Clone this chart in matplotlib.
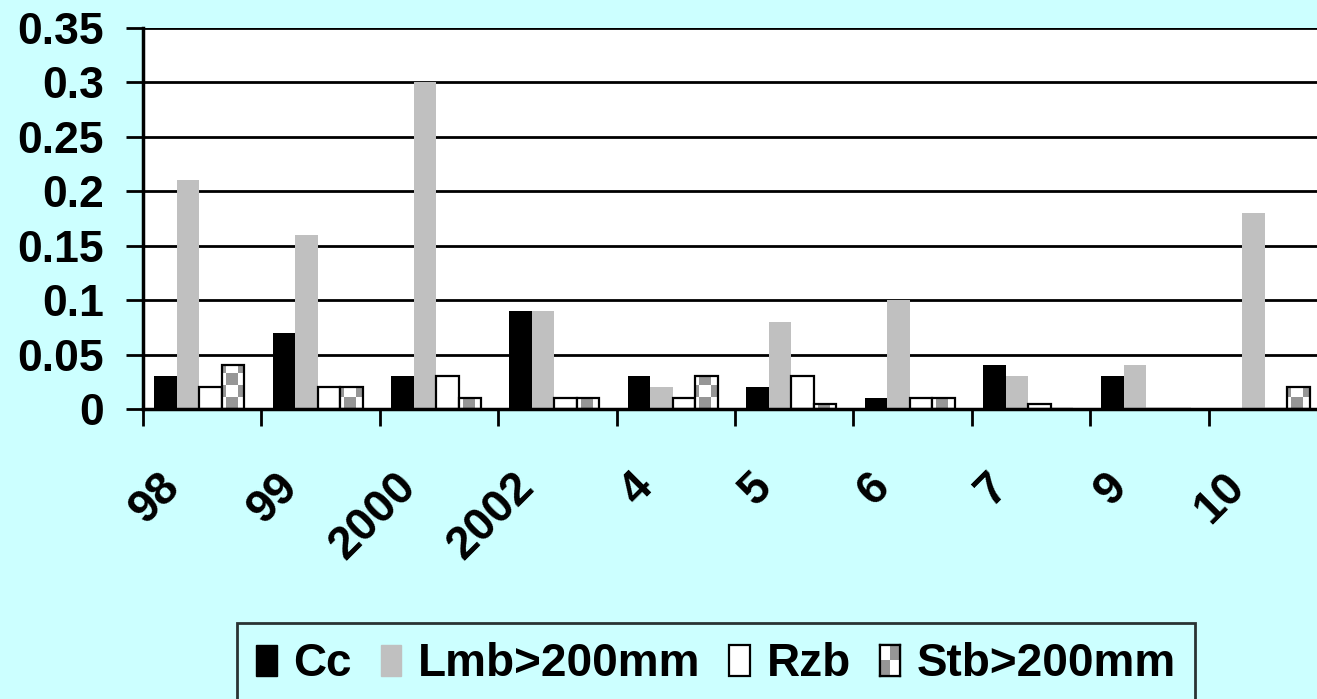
import matplotlib
matplotlib.use("Agg")
import matplotlib.pyplot as plt
import matplotlib.transforms as mtransforms
from matplotlib.patches import Patch
import numpy as np

## data
years = ["98", "99", "2000", "2002", "4", "5", "6", "7", "9", "10"]
cc = [0.03, 0.07, 0.03, 0.09, 0.03, 0.02, 0.01, 0.04, 0.03, 0.0]
lmb = [0.21, 0.16, 0.30, 0.09, 0.02, 0.08, 0.10, 0.03, 0.04, 0.18]
rzb = [0.02, 0.02, 0.03, 0.01, 0.01, 0.03, 0.01, 0.005, 0.0, 0.0]
stb = [0.04, 0.02, 0.01, 0.01, 0.03, 0.005, 0.01, 0.0, 0.0, 0.02]
series_names = ["Cc", "Lmb>200mm", "Rzb", "Stb>200mm"]
yticks = [0, 0.05, 0.1, 0.15, 0.2, 0.25, 0.3, 0.35]
ytick_labels = ["0", "0.05", "0.1", "0.15", "0.2", "0.25", "0.3", "0.35"]

bg = "#CCFFFF"
gray = "#C0C0C0"
checker_gray = "#969696"

plt.rcParams["font.family"] = ["Liberation Sans", "DejaVu Sans"]
plt.rcParams["font.weight"] = "bold"

fig = plt.figure(figsize=(13.17, 6.99), dpi=100, facecolor=bg)
ax = fig.add_axes([143 / 1317, 1 - 409 / 699, 1184 / 1317, 381 / 699])
ax.set_facecolor("white")

x = np.arange(len(years)) + 0.5
w = 0.19
shift = -0.025

ax.bar(x + shift - 1.5 * w, cc, w, color="black", zorder=3)
ax.bar(x + shift - 0.5 * w, lmb, w, color=gray, zorder=3)
ax.bar(x + shift + 0.5 * w, rzb, w, color="white", edgecolor="black", linewidth=1.6, zorder=3)
stb_bars = ax.bar(x + shift + 1.5 * w, stb, w, color="none", edgecolor="black", linewidth=1.6, zorder=4)

# checker fill for Stb, one clipped image per bar
ny, nx = 32, 100
checker = (np.add.outer(np.arange(ny), np.arange(nx)) % 2).astype(float)
cmap = matplotlib.colors.ListedColormap([checker_gray, "white"])
for b in stb_bars:
    if b.get_height() <= 0:
        continue
    im = ax.imshow(checker, cmap=cmap, extent=(0, 10, 0, 0.35), aspect="auto",
                   interpolation="nearest", zorder=3.5)
    im.set_clip_path(b)

ax.set_xlim(0, 10)
ax.set_ylim(0, 0.35)

# y axis
ax.set_yticks(yticks)
ax.set_yticklabels(ytick_labels, fontsize=32, fontweight="bold")
ax.tick_params(axis="y", direction="out", length=12, width=2, pad=16)
ax.yaxis.grid(True, color="black", linewidth=2)
ax.set_axisbelow(True)

# x axis: tick marks between groups, labels at centers
ax.set_xticks(np.arange(0, 11), minor=True)
ax.set_xticks(x)
ax.set_xticklabels(years, fontsize=33, fontweight="bold", rotation=45, ha="right", va="top")
ax.tick_params(axis="x", which="minor", direction="out", length=12, width=2)
ax.tick_params(axis="x", which="major", length=0, pad=40)
offset = mtransforms.ScaledTranslation(-0.14, 0, fig.dpi_scale_trans)
for lab in ax.get_xticklabels():
    lab.set_transform(lab.get_transform() + offset)

for s in ["top", "right"]:
    ax.spines[s].set_visible(False)
for s in ["left", "bottom"]:
    ax.spines[s].set_linewidth(2.5)
    ax.spines[s].set_zorder(5)

# legend
handles = [
    Patch(facecolor="black", edgecolor="black"),
    Patch(facecolor=gray, edgecolor=gray),
    Patch(facecolor="white", edgecolor="black", linewidth=1.6),
    Patch(facecolor="white", edgecolor="black", linewidth=1.6),
]
leg = fig.legend(handles, series_names, loc="upper left",
                 bbox_to_anchor=(237 / 1317, 1 - 623 / 699), borderaxespad=0, ncol=4,
                 prop={"size": 33, "weight": "bold"}, frameon=True, fancybox=False,
                 edgecolor="black", facecolor=bg, handlelength=0.45, handleheight=0.66,
                 handletextpad=0.36, columnspacing=0.63, borderpad=0.42)
leg.get_frame().set_linewidth(2)

# checker inside the Stb legend handle
fig.canvas.draw()
hb = leg.get_patches()[3].get_window_extent()
fw, fh = fig.bbox.width, fig.bbox.height
hax = fig.add_axes([hb.x0 / fw, hb.y0 / fh, hb.width / fw, hb.height / fh], zorder=10)
hax.imshow([[1, 0], [0, 1]], cmap=cmap, aspect="auto", interpolation="nearest")
hax.set_xticks([])
hax.set_yticks([])
for s in hax.spines.values():
    s.set_linewidth(1.6)

fig.savefig("out.png", dpi=100, facecolor=bg)
